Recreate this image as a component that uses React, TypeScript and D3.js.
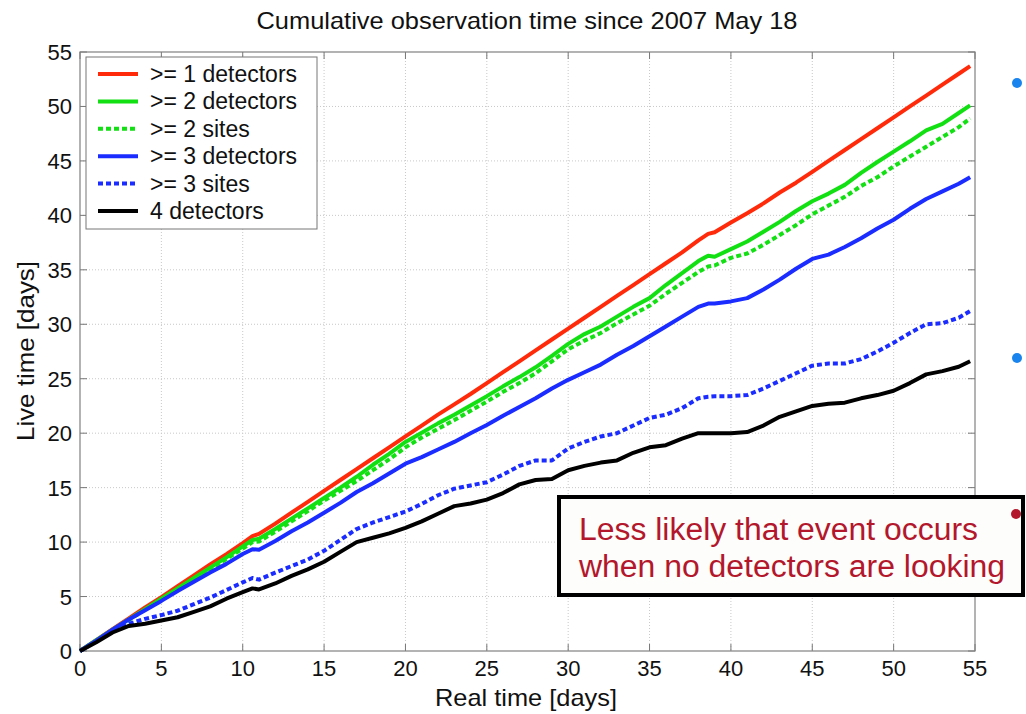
import React from "react";
import * as d3 from "d3";

const days = [0, 1, 2, 3, 4, 5, 6, 7, 8, 9, 10, 10.6, 11, 12, 13, 14, 15, 16, 17, 18, 19, 20, 21, 22, 23, 24, 25, 26, 27, 28, 29, 30, 31, 32, 33, 34, 35, 36, 37, 38, 38.6, 39, 40, 41, 42, 43, 44, 45, 46, 47, 48, 49, 50, 51, 52, 53, 54, 54.7];

const ge1Detectors = [0, 1.0, 2.0, 3.0, 4.0, 4.95, 5.95, 6.95, 7.95, 8.9, 9.9, 10.55, 10.75, 11.7, 12.7, 13.7, 14.7, 15.7, 16.7, 17.7, 18.7, 19.7, 20.7, 21.7, 22.65, 23.6, 24.6, 25.6, 26.6, 27.6, 28.6, 29.6, 30.6, 31.6, 32.6, 33.6, 34.6, 35.6, 36.6, 37.7, 38.3, 38.45, 39.35, 40.2, 41.1, 42.1, 43.0, 44.0, 45.0, 46.0, 47.0, 48.0, 49.0, 50.0, 51.0, 52.0, 53.0, 53.7];
const ge2Detectors = [0, 1.0, 1.95, 2.9, 3.85, 4.8, 5.75, 6.7, 7.65, 8.6, 9.6, 10.2, 10.3, 11.2, 12.15, 13.1, 14.05, 15.0, 16.0, 17.1, 18.1, 19.2, 20.05, 20.9, 21.7, 22.55, 23.4, 24.3, 25.15, 26.05, 27.1, 28.2, 29.1, 29.8, 30.7, 31.6, 32.4, 33.6, 34.7, 35.8, 36.3, 36.2, 36.9, 37.6, 38.5, 39.4, 40.4, 41.3, 42.0, 42.8, 43.9, 44.9, 45.85, 46.8, 47.8, 48.4, 49.4, 50.1];
const ge2Sites = [0, 0.95, 1.9, 2.85, 3.8, 4.7, 5.65, 6.6, 7.5, 8.45, 9.4, 10.0, 10.05, 10.95, 11.9, 12.85, 13.8, 14.7, 15.6, 16.6, 17.6, 18.7, 19.6, 20.4, 21.2, 22.05, 22.9, 23.8, 24.6, 25.5, 26.6, 27.7, 28.5, 29.2, 30.1, 30.9, 31.7, 32.8, 33.8, 34.8, 35.3, 35.4, 36.1, 36.5, 37.3, 38.2, 39.1, 40.1, 40.9, 41.7, 42.7, 43.5, 44.5, 45.4, 46.3, 47.2, 48.1, 48.9];
const ge3Detectors = [0, 0.95, 1.95, 2.9, 3.75, 4.6, 5.5, 6.35, 7.2, 8.0, 8.9, 9.35, 9.3, 10.1, 11.0, 11.8, 12.7, 13.6, 14.6, 15.4, 16.3, 17.2, 17.8, 18.5, 19.2, 20.0, 20.75, 21.6, 22.4, 23.2, 24.1, 24.9, 25.6, 26.3, 27.2, 28.0, 28.9, 29.8, 30.7, 31.6, 31.9, 31.9, 32.1, 32.4, 33.2, 34.1, 35.1, 36.0, 36.4, 37.1, 37.9, 38.8, 39.6, 40.6, 41.5, 42.2, 42.9, 43.5];
const ge3Sites = [0, 0.9, 1.8, 2.5, 2.95, 3.3, 3.7, 4.3, 4.9, 5.6, 6.3, 6.7, 6.55, 7.2, 7.8, 8.4, 9.2, 10.2, 11.2, 11.8, 12.3, 12.8, 13.5, 14.3, 14.9, 15.2, 15.5, 16.2, 17.0, 17.5, 17.5, 18.6, 19.2, 19.7, 20.0, 20.7, 21.4, 21.7, 22.3, 23.2, 23.35, 23.4, 23.4, 23.5, 24.1, 24.8, 25.5, 26.2, 26.4, 26.4, 26.8, 27.5, 28.3, 29.2, 30.0, 30.1, 30.6, 31.2];
const all4Detectors = [0, 0.8, 1.7, 2.3, 2.5, 2.8, 3.1, 3.6, 4.1, 4.8, 5.4, 5.75, 5.65, 6.2, 6.9, 7.5, 8.2, 9.1, 10.0, 10.4, 10.8, 11.3, 11.9, 12.6, 13.3, 13.55, 13.9, 14.5, 15.3, 15.7, 15.8, 16.6, 17.0, 17.3, 17.5, 18.2, 18.7, 18.9, 19.5, 20.0, 20.0, 20.0, 20.0, 20.1, 20.7, 21.5, 22.0, 22.5, 22.7, 22.8, 23.2, 23.5, 23.9, 24.6, 25.4, 25.7, 26.1, 26.6];

const seriesNames = [">= 1 detectors", ">= 2 detectors", ">= 2 sites", ">= 3 detectors", ">= 3 sites", "4 detectors"];
const seriesValues = [ge1Detectors, ge2Detectors, ge2Sites, ge3Detectors, ge3Sites, all4Detectors];
const seriesColors = ["#ff2a0a", "#12e012", "#12e012", "#1a2cff", "#1a2cff", "#000000"];
const seriesDashed = [false, false, true, false, true, false];

const xTicks = [0, 5, 10, 15, 20, 25, 30, 35, 40, 45, 50, 55];
const yTicks = [0, 5, 10, 15, 20, 25, 30, 35, 40, 45, 50, 55];

const titleText = "Cumulative observation time since 2007 May 18";
const xLabel = "Real time [days]";
const yLabel = "Live time [days]";
const noteLines = ["Less likely that event occurs", "when no detectors are looking"];

export default function App() {
  const left = 80, right = 975, top = 52, bottom = 651;
  const x = d3.scaleLinear().domain([0, 55]).range([left, right]);
  const y = d3.scaleLinear().domain([0, 55]).range([bottom, top]);
  const font = "'Liberation Sans', Arial, sans-serif";

  const lineGen = (vals: number[]) =>
    d3.line<number>().x((_, i) => x(days[i])).y((v) => y(v)).curve(d3.curveLinear)(vals) || "";

  return (
    <div style={{ position: "absolute", left: 0, top: 0 }}>
      <svg width={1026} height={714} style={{ display: "block", background: "#fff" }} fontFamily={font}>
        <rect x={0} y={0} width={1026} height={714} fill="#fff" />
        {/* grid */}
        {xTicks.slice(1, -1).map((t) => (
          <line key={"gx" + t} x1={x(t)} x2={x(t)} y1={top} y2={bottom} stroke="#c8c8c8" strokeWidth={1} strokeDasharray="1,2" />
        ))}
        {yTicks.slice(1, -1).map((t) => (
          <line key={"gy" + t} x1={left} x2={right} y1={y(t)} y2={y(t)} stroke="#c8c8c8" strokeWidth={1} strokeDasharray="1,2" />
        ))}
        {/* ticks inward */}
        {xTicks.map((t) => (
          <g key={"tx" + t}>
            <line x1={x(t)} x2={x(t)} y1={bottom} y2={bottom - 7} stroke="#777" strokeWidth={1} />
            <line x1={x(t)} x2={x(t)} y1={top} y2={top + 7} stroke="#777" strokeWidth={1} />
            <text x={x(t)} y={bottom + 25} fontSize={22} textAnchor="middle" fill="#111">{t}</text>
          </g>
        ))}
        {yTicks.map((t) => (
          <g key={"ty" + t}>
            <line x1={left} x2={left + 7} y1={y(t)} y2={y(t)} stroke="#777" strokeWidth={1} />
            <line x1={right} x2={right - 7} y1={y(t)} y2={y(t)} stroke="#777" strokeWidth={1} />
            <text x={left - 8} y={y(t) + 8} fontSize={22} textAnchor="end" fill="#111">{t}</text>
          </g>
        ))}
        <rect x={left} y={top} width={right - left} height={bottom - top} fill="none" stroke="#808080" strokeWidth={1.2} />

        {/* series */}
        {seriesValues.map((vals, i) => (
          <path key={"s" + i} d={lineGen(vals)} fill="none" stroke={seriesColors[i]} strokeWidth={4}
            strokeDasharray={seriesDashed[i] ? "5,3" : undefined} strokeLinejoin="round" />
        ))}

        {/* legend */}
        <rect x={86} y={57} width={231} height={172} fill="#fff" stroke="#777" strokeWidth={1} />
        {seriesNames.map((name, i) => {
          const ly = 74 + i * 27.4;
          return (
            <g key={"lg" + i}>
              <line x1={98} x2={138} y1={ly} y2={ly} stroke={seriesColors[i]} strokeWidth={4}
                strokeDasharray={seriesDashed[i] ? "5,3" : undefined} />
              <text x={150} y={ly + 8} fontSize={23} fill="#111">{name}</text>
            </g>
          );
        })}

        {/* titles */}
        <text x={527} y={29} fontSize={24} textAnchor="middle" fill="#111" textLength={541} lengthAdjust="spacingAndGlyphs">{titleText}</text>
        <text x={526} y={706} fontSize={24} textAnchor="middle" fill="#111" textLength={182} lengthAdjust="spacingAndGlyphs">{xLabel}</text>
        <text transform={`translate(34,351) rotate(-90)`} fontSize={24} textAnchor="middle" fill="#111" textLength={180} lengthAdjust="spacingAndGlyphs">{yLabel}</text>

        {/* bullets on the right */}
        <circle cx={1017} cy={83} r={5} fill="#1a84ee" />
        <circle cx={1017} cy={358} r={5} fill="#1a84ee" />

        {/* annotation box */}
        <rect x={559} y={497} width={464} height={98} fill="#fdfdfb" stroke="#000" strokeWidth={4} />
        <circle cx={1016} cy={514} r={5} fill="#b3172c" />
        <text x={579} y={540} fontSize={31} fill="#b3172c" textLength={399} lengthAdjust="spacingAndGlyphs">{noteLines[0]}</text>
        <text x={579} y={577} fontSize={31} fill="#b3172c" textLength={426} lengthAdjust="spacingAndGlyphs">{noteLines[1]}</text>
      </svg>
    </div>
  );
}
